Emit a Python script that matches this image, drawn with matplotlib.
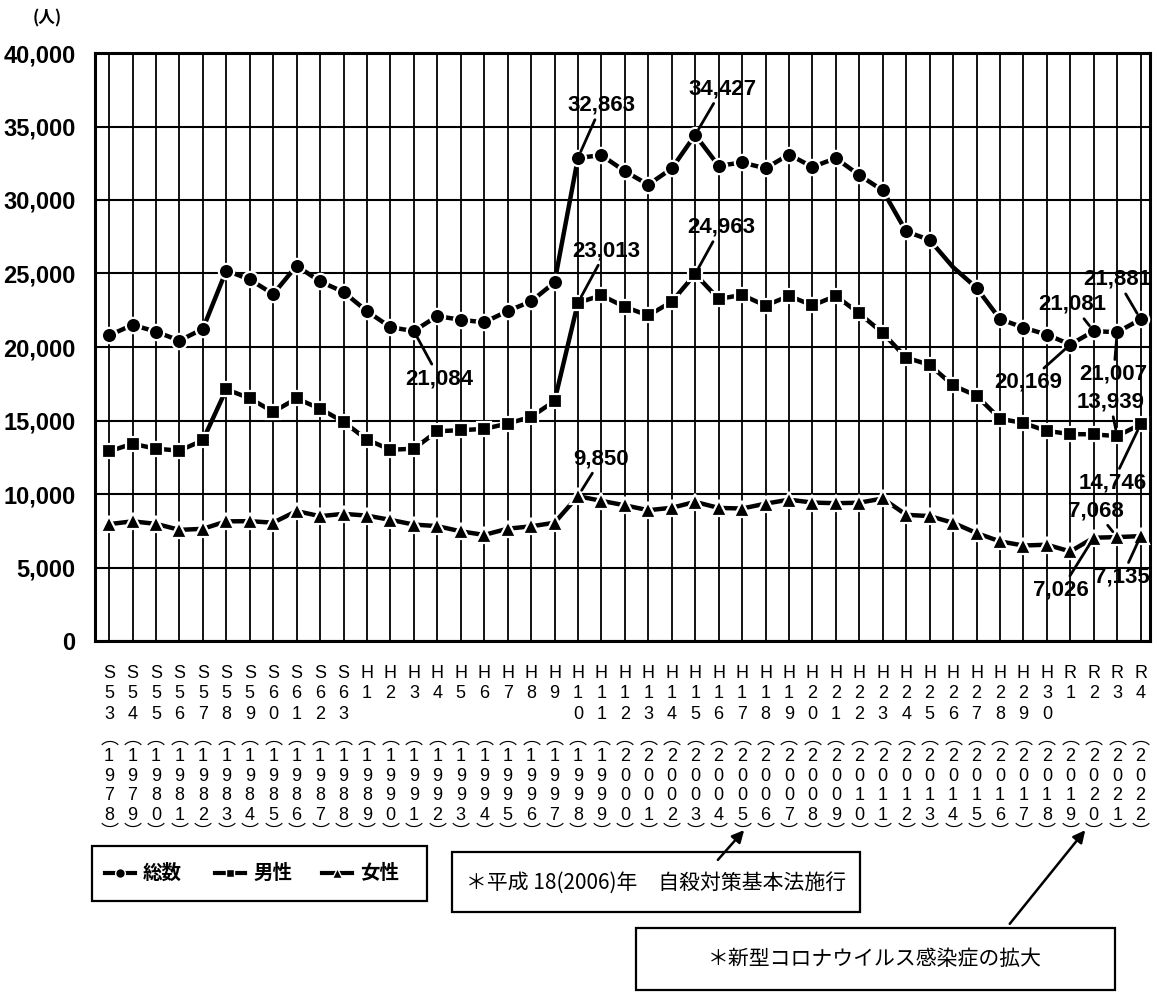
import matplotlib
matplotlib.use("Agg")
import matplotlib.pyplot as plt
from matplotlib.lines import Line2D
from matplotlib.patches import Rectangle, FancyArrowPatch
import matplotlib.transforms as mtransforms

# ---- data -------------------------------------------------------------
era_labels = (["S53", "S54", "S55", "S56", "S57", "S58", "S59", "S60", "S61", "S62", "S63"]
              + [f"H{i}" for i in range(1, 31)]
              + ["R1", "R2", "R3", "R4"])
year_labels = [str(y) for y in range(1978, 2023)]

total = [20788, 21503, 21048, 20434, 21228, 25202, 24596, 23599, 25524, 24460,
         23742, 22436, 21346, 21084, 22104, 21851, 21679, 22445, 23104, 24391,
         32863, 33048, 31957, 31042, 32143, 34427, 32325, 32552, 32155, 33093,
         32249, 32845, 31690, 30651, 27858, 27283, 25427, 24025, 21897, 21321,
         20840, 20169, 21081, 21007, 21881]
male = [12900, 13420, 13080, 12950, 13650, 17120, 16510, 15590, 16500, 15800,
        14910, 13700, 13010, 13080, 14270, 14340, 14430, 14790, 15250, 16320,
        23013, 23512, 22727, 22144, 23080, 24963, 23272, 23540, 22813, 23478,
        22831, 23472, 22283, 20955, 19273, 18787, 17386, 16681, 15121, 14826,
        14290, 14078, 14055, 13939, 14746]
female = [7950, 8140, 7970, 7560, 7630, 8140, 8150, 8050, 8840, 8490,
          8650, 8530, 8240, 7920, 7815, 7460, 7215, 7640, 7800, 8045,
          9850, 9536, 9230, 8898, 9063, 9464, 9053, 9012, 9342, 9615,
          9418, 9373, 9407, 9696, 8585, 8496, 8041, 7344, 6776, 6495,
          6550, 6091, 7026, 7068, 7135]

series_names = ["総数", "男性", "女性"]
y_ticks = [0, 5000, 10000, 15000, 20000, 25000, 30000, 35000, 40000]

# callouts: (series index, point index, label x, label y)
callouts = [
    (0, 20, 21.0, 36450), (0, 25, 26.15, 37550), (0, 13, 14.1, 17850),
    (0, 41, 39.2, 17600), (0, 42, 41.1, 22900), (0, 43, 42.85, 18150),
    (0, 44, 43.0, 24600),
    (1, 20, 21.2, 26550), (1, 25, 26.1, 28150), (1, 43, 42.7, 16250),
    (1, 44, 42.8, 10750),
    (2, 20, 21.0, 12400), (2, 42, 40.6, 3450), (2, 43, 42.1, 8850),
    (2, 44, 43.2, 4350),
]

# ---- figure -----------------------------------------------------------
W, H = 1159, 996
fig = plt.figure(figsize=(W / 100, H / 100), dpi=100)
fig.patch.set_facecolor("white")

ax_left, ax_right, ax_top, ax_bot = 95, 1150, 53, 641
ax = fig.add_axes([ax_left / W, 1 - ax_bot / H, (ax_right - ax_left) / W, (ax_bot - ax_top) / H])

NUM = ["Liberation Sans", "DejaVu Sans"]
CJK = ["Noto Sans CJK JP", "DejaVu Sans"]

x = list(range(len(total)))
series = [total, male, female]
markers = ["o", "s", "^"]
sizes = [11, 10, 11]
for vals, mk, ms in zip(series, markers, sizes):
    every = [i for i in x if not (vals is total and i == 36)]
    ax.plot(x, vals, color="black", lw=3.2, marker=mk, ms=ms,
            markerfacecolor="black", markeredgecolor="white", markeredgewidth=1.6,
            markevery=every, zorder=3, solid_capstyle="butt")

ax.set_xlim(-0.6, 44.4)
ax.set_ylim(0, 40000)
ax.set_yticks(y_ticks)
ax.set_yticklabels([f"{v:,}" for v in y_ticks], fontfamily=NUM,
                   fontweight="bold", fontsize=17)
ax.set_xticks(x)
ax.set_xticklabels([])
ax.tick_params(axis="both", length=0)
ax.tick_params(axis="y", pad=14)
ax.grid(True, axis="y", color="black", lw=1.5)
ax.grid(True, axis="x", color="black", lw=1.3)
ax.set_axisbelow(True)
for sp in ax.spines.values():
    sp.set_linewidth(2.2)

# value callouts
for s, i, tx, ty in callouts:
    v = series[s][i]
    ax.annotate(f"{v:,}", xy=(i, v), xytext=(tx, ty), ha="center", va="center",
                fontsize=16, fontweight="bold", fontfamily=NUM,
                arrowprops=dict(arrowstyle="-", color="black", lw=2,
                                shrinkA=1, shrinkB=5), zorder=5)

# unit label
fig.text(47 / W, 1 - 18 / H, "(人)", fontfamily=CJK, fontsize=12,
         fontweight="bold", ha="center", va="center")

# vertical era / year labels under the axis
trans = mtransforms.blended_transform_factory(ax.transData, fig.transFigure)
era_rows = [674, 694, 714]
year_rows = [756, 776, 796, 815]
for i, (era, yr) in enumerate(zip(era_labels, year_labels)):
    for ch, yp in zip(era, era_rows):
        ax.text(i, 1 - yp / H, ch, transform=trans, ha="center", va="center",
                fontsize=13, fontfamily=NUM, clip_on=False)
    ax.text(i, 1 - 739 / H, "︵", transform=trans, ha="center", va="center",
            fontsize=13, fontfamily=CJK, clip_on=False)
    for ch, yp in zip(yr, year_rows):
        ax.text(i, 1 - yp / H, ch, transform=trans, ha="center", va="center",
                fontsize=13, fontfamily=NUM, clip_on=False)
    ax.text(i, 1 - 833 / H, "︶", transform=trans, ha="center", va="center",
            fontsize=13, fontfamily=CJK, clip_on=False)


def px_box(x0, y0, x1, y1):
    fig.add_artist(Rectangle((x0 / W, 1 - y1 / H), (x1 - x0) / W, (y1 - y0) / H,
                             transform=fig.transFigure, facecolor="white",
                             edgecolor="black", lw=1.6))


# legend box
px_box(92, 846, 427, 901)
lx = [105, 215, 322]
for (name, mk, ms), xs in zip(zip(series_names, ["o", "s", "^"], [7, 6, 7]), lx):
    fig.add_artist(Line2D([xs / W, (xs + 30) / W], [1 - 873 / H] * 2,
                          transform=fig.transFigure, color="black", lw=3))
    fig.add_artist(Line2D([(xs + 15) / W], [1 - 873 / H], transform=fig.transFigure,
                          marker=mk, ms=ms, color="black", markeredgecolor="white",
                          markeredgewidth=1))
    fig.text((xs + 38) / W, 1 - 873 / H, name, fontfamily=CJK, fontweight="bold",
             fontsize=14, ha="left", va="center")

# note boxes
px_box(452, 852, 860, 912)
fig.text(656 / W, 1 - 883 / H, "＊平成 18(2006)年　自殺対策基本法施行",
         fontfamily=CJK, fontsize=15, ha="center", va="center")
px_box(636, 928, 1115, 990)
fig.text(875 / W, 1 - 959 / H, "＊新型コロナウイルス感染症の拡大",
         fontfamily=CJK, fontsize=15, ha="center", va="center")

for (x0, y0), (x1, y1) in [((716, 862), (746, 828)), ((1008, 926), (1087, 828))]:
    fig.add_artist(FancyArrowPatch((x0 / W, 1 - y0 / H), (x1 / W, 1 - y1 / H),
                                   transform=fig.transFigure, arrowstyle="-|>",
                                   mutation_scale=18, color="black", lw=1.8))

fig.savefig("out.png", dpi=100)
